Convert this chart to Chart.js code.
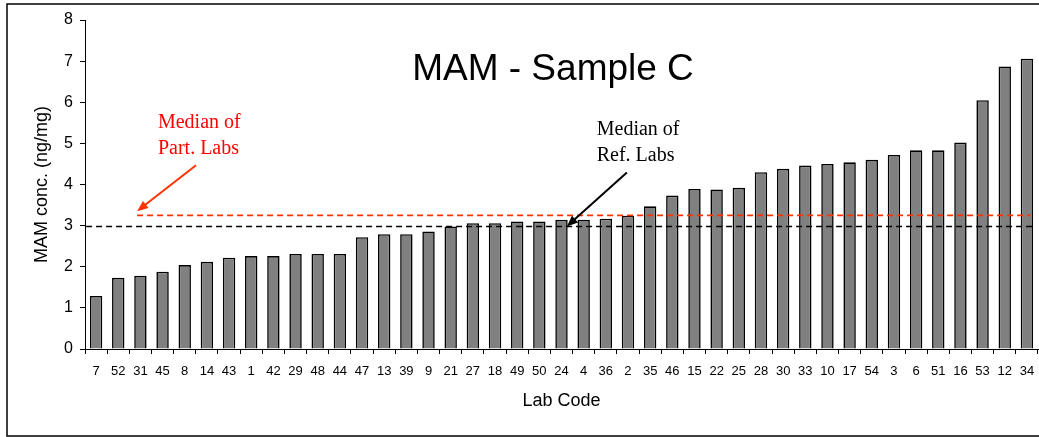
<!DOCTYPE html>
<html>
<head>
<meta charset="utf-8">
<script src="https://cdn.jsdelivr.net/npm/chart.js@4"></script>
<style>
  html, body { margin: 0; padding: 0; background: #fff; }
  canvas { display: block; }
</style>
</head>
<body>
<canvas id="grafico" width="1039" height="437"></canvas>
<script>
// dados
var labCodes = ['7','52','31','45','8','14','43','1','42','29','48','44','47','13','39','9','21','27','18','49',
  '50','24','4','36','2','35','46','15','22','25','28','30','33','10','17','54','3','6','51','16','53','12','34'];
var mamValues = [1.29,1.73,1.78,1.88,2.04,2.12,2.22,2.26,2.26,2.31,2.31,2.31,2.72,2.79,2.79,2.86,2.98,3.06,3.06,3.10,
  3.10,3.14,3.14,3.17,3.24,3.47,3.73,3.89,3.88,3.92,4.30,4.38,4.46,4.50,4.54,4.60,4.72,4.83,4.83,5.02,6.05,6.87,7.06];
var yTicks = [0,1,2,3,4,5,6,7,8];
var medianRefLabs = 2.98;
var medianPartLabs = 3.25;

var sans = '"Liberation Sans", Arial, sans-serif';
var serif = '"Liberation Serif", "Times New Roman", serif';

function seta(ctx, x0, y0, x1, y1, cor) {
  var ang = Math.atan2(y1 - y0, x1 - x0);
  var len = 11, w = 4.5;
  ctx.strokeStyle = cor;
  ctx.fillStyle = cor;
  ctx.lineWidth = 2;
  ctx.beginPath();
  ctx.moveTo(x0, y0);
  ctx.lineTo(x1 - Math.cos(ang) * len * 0.8, y1 - Math.sin(ang) * len * 0.8);
  ctx.stroke();
  ctx.beginPath();
  ctx.moveTo(x1, y1);
  ctx.lineTo(x1 - Math.cos(ang) * len + Math.sin(ang) * w, y1 - Math.sin(ang) * len - Math.cos(ang) * w);
  ctx.lineTo(x1 - Math.cos(ang) * len - Math.sin(ang) * w, y1 - Math.sin(ang) * len + Math.cos(ang) * w);
  ctx.closePath();
  ctx.fill();
}

var anotacoes = {
  id: 'anotacoes',
  beforeDraw: function(chart) {
    var ctx = chart.ctx;
    ctx.save();
    ctx.strokeStyle = '#000';
    ctx.lineWidth = 1.5;
    ctx.strokeRect(7, 4, 1040, 432);
    ctx.restore();
  },
  afterDatasetsDraw: function(chart) {
    var ctx = chart.ctx;
    var xs = chart.scales.x, ys = chart.scales.y;
    function px(i) { return xs.getPixelForValue(i); }
    function py(v) { return ys.getPixelForValue(v); }

    ctx.save();
    // linhas das medianas
    ctx.setLineDash([6, 4]);
    ctx.lineWidth = 1.6;
    ctx.strokeStyle = '#ff3300';
    ctx.beginPath();
    ctx.moveTo(px(1.85), py(medianPartLabs));
    ctx.lineTo(px(42.15), py(medianPartLabs));
    ctx.stroke();
    ctx.strokeStyle = '#000';
    ctx.beginPath();
    ctx.moveTo(px(-0.45), py(medianRefLabs));
    ctx.lineTo(px(42.3), py(medianRefLabs));
    ctx.stroke();
    ctx.setLineDash([]);

    // setas
    seta(ctx, px(4.51), py(4.47), px(1.85), py(medianPartLabs + 0.1), '#ff3300');
    seta(ctx, px(23.95), py(4.29), px(21.24), py(medianRefLabs), '#000');

    // textos
    ctx.textAlign = 'left';
    ctx.textBaseline = 'alphabetic';
    ctx.font = '20px ' + serif;
    ctx.fillStyle = '#ff0000';
    ctx.fillText('Median of', px(2.79), py(5.374));
    ctx.fillText('Part. Labs', px(2.79), py(4.742));
    ctx.fillStyle = '#000';
    ctx.fillText('Median of', px(22.59), py(5.204));
    ctx.fillText('Ref. Labs', px(22.59), py(4.579));

    // título
    ctx.textAlign = 'center';
    ctx.font = '37px ' + sans;
    ctx.fillText('MAM - Sample C', 553, 80);
    ctx.restore();
  }
};

var ctx = document.getElementById('grafico').getContext('2d');
var myChart = new Chart(ctx, {
  type: 'bar',
  data: {
    labels: labCodes,
    datasets: [{
      data: mamValues,
      backgroundColor: '#808080',
      borderColor: '#000',
      borderWidth: 1.6,
      barPercentage: 0.56,
      categoryPercentage: 1
    }]
  },
  options: {
    responsive: false,
    animation: false,
    layout: { padding: { top: 20, right: 1, bottom: 0, left: 0 } },
    plugins: {
      legend: { display: false },
      tooltip: { enabled: false }
    },
    scales: {
      x: {
        afterFit: function(scale) {
          scale.height = 88;
          scale.paddingLeft = 0;
          scale.paddingRight = 0;
        },
        grid: { drawOnChartArea: false, drawTicks: true, tickLength: 5, color: '#000', offset: true },
        border: { display: true, color: '#000', width: 1 },
        ticks: { color: '#000', font: { family: sans, size: 13 }, padding: 10, maxRotation: 0, autoSkip: false },
        title: { display: true, text: 'Lab Code', color: '#000', font: { family: sans, size: 18 }, padding: { top: 0, bottom: 25 } }
      },
      y: {
        min: 0,
        max: 8,
        afterFit: function(scale) { scale.width = 85; },
        afterBuildTicks: function(scale) { scale.ticks = yTicks.map(function(v) { return { value: v }; }); },
        grid: { drawOnChartArea: false, drawTicks: true, tickLength: 5, color: '#000' },
        border: { display: true, color: '#000', width: 1 },
        ticks: { color: '#000', font: { family: sans, size: 16 }, padding: 7 },
        title: { display: true, text: 'MAM conc. (ng/mg)', color: '#000', font: { family: sans, size: 18 }, padding: { top: 31, bottom: 0 } }
      }
    }
  },
  plugins: [anotacoes]
});
</script>
</body>
</html>
